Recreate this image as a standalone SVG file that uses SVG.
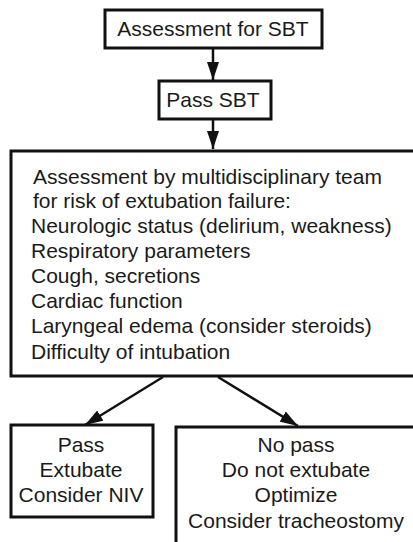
<svg xmlns="http://www.w3.org/2000/svg" width="413" height="542" viewBox="0 0 413 542">
<style>
.box{fill:#fff;stroke:#111;stroke-width:3}
.t{font-family:"Liberation Sans",Arial,sans-serif;font-size:21px;fill:#1a1a1a}
.c{text-anchor:middle}
.conn{stroke:#111;stroke-width:2.5;fill:none}
</style>
<defs>
<marker id="ah" markerUnits="userSpaceOnUse" markerWidth="18" markerHeight="12" refX="18" refY="6" orient="auto">
<path d="M0,0 L18,6 L0,12 z" fill="#111"/>
</marker>
</defs>
<rect width="413" height="542" fill="#fff"/>
<g id="connectors">
<line class="conn" x1="213" y1="48" x2="213" y2="80" marker-end="url(#ah)"/>
<line class="conn" x1="213" y1="119" x2="213" y2="149" marker-end="url(#ah)"/>
<line class="conn" x1="163" y1="377" x2="85" y2="425" marker-end="url(#ah)"/>
<line class="conn" x1="218" y1="377" x2="298" y2="426" marker-end="url(#ah)"/>
</g>
<g id="assess-sbt">
<rect class="box" x="105" y="10" width="217" height="38"/>
<text class="t c" x="213" y="36">Assessment for SBT</text>
</g>
<g id="pass-sbt">
<rect class="box" x="159" y="81" width="112" height="38"/>
<text class="t c" x="213" y="107">Pass SBT</text>
</g>
<g id="team-assessment">
<rect class="box" x="11" y="151" width="420" height="225"/>
<text class="t" x="33" y="184">Assessment by multidisciplinary team</text>
<text class="t" x="33" y="208">for risk of extubation failure:</text>
<text class="t" x="31" y="233">Neurologic status (delirium, weakness)</text>
<text class="t" x="31" y="258">Respiratory parameters</text>
<text class="t" x="31" y="283">Cough, secretions</text>
<text class="t" x="31" y="308">Cardiac function</text>
<text class="t" x="31" y="333">Laryngeal edema (consider steroids)</text>
<text class="t" x="31" y="359">Difficulty of intubation</text>
</g>
<g id="pass">
<rect class="box" x="11" y="425" width="142" height="92"/>
<text class="t c" x="81" y="452">Pass</text>
<text class="t c" x="81" y="477">Extubate</text>
<text class="t c" x="81" y="502">Consider NIV</text>
</g>
<g id="no-pass">
<rect class="box" x="176" y="427" width="260" height="140"/>
<text class="t c" x="296" y="452">No pass</text>
<text class="t c" x="296" y="477">Do not extubate</text>
<text class="t c" x="296" y="502">Optimize</text>
<text class="t c" x="296" y="528">Consider tracheostomy</text>
</g>
</svg>
